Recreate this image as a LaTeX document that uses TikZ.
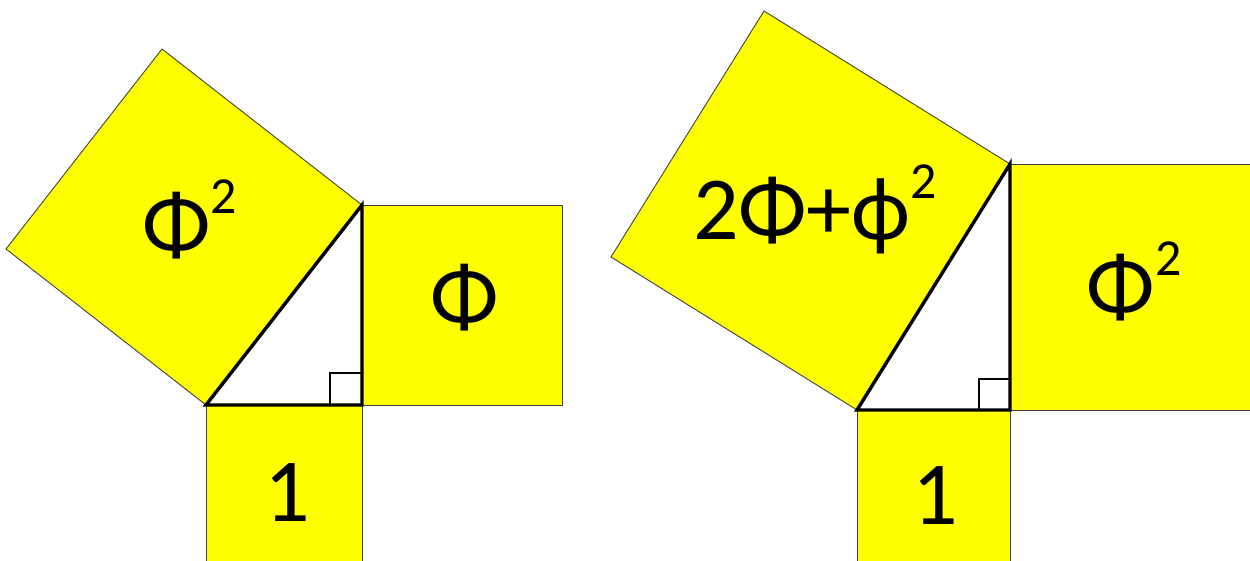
\documentclass[tikz,border=0pt]{standalone}
\usepackage{fontspec}
\setmainfont{Carlito}
\definecolor{yel}{RGB}{255,255,0}
\newcommand{\supr}[1]{\raisebox{41pt}{\fontsize{52}{52}\selectfont #1}}
\newcommand{\smallphi}{\iffontchar\font"03D5 ϕ\else φ\fi}
\tikzset{
  sq/.style={fill=yel, draw=black!75, line width=0.9pt, line join=miter},
  tri/.style={draw=black, line width=3.4pt, line join=miter},
  rmark/.style={draw=black, line width=2.6pt},
  lbl/.style={anchor=base, inner sep=0pt, font=\fontsize{90}{90}\selectfont}
}
\begin{document}
\begin{tikzpicture}[x=1pt,y=1pt]
\clip (0,0) rectangle (1250,561);
% left figure
\coordinate (A1) at (206,156);
\coordinate (B1) at (362,156);
\coordinate (C1) at (362,356);
\coordinate (D1) at (6,312);
\coordinate (E1) at (162,512);
\draw[sq] (A1) -- (D1) -- (E1) -- (C1) -- cycle;
\draw[sq] (B1) rectangle (562,356);
\draw[sq] (206,-5) rectangle (B1);
\draw[tri] (A1) -- (B1) -- (C1) -- cycle;
\draw[rmark] (330,156) -- (330,188) -- (362,188);
\node[lbl] (l1) at (190,306) {Φ\supr{2}};
\node[lbl] (l2) at (465,234) {Φ};
\node[lbl] (l3) at (287,39) {1};
% right figure
\coordinate (A2) at (857,151);
\coordinate (B2) at (1010,151);
\coordinate (C2) at (1010,397);
\coordinate (D2) at (611,304);
\coordinate (E2) at (764,550);
\draw[sq] (A2) -- (D2) -- (E2) -- (C2) -- cycle;
\draw[sq] (B2) rectangle (1256,397);
\draw[sq] (857,-5) rectangle (B2);
\draw[tri] (A2) -- (B2) -- (C2) -- cycle;
\draw[rmark] (979,151) -- (979,182) -- (1010,182);
\node[lbl] (r1) at (815,321) {2Φ+\smallphi\supr{2}};
\node[lbl] (r2) at (1134,244) {Φ\supr{2}};
\node[lbl] (r3) at (935,36) {1};
\end{tikzpicture}
\end{document}
